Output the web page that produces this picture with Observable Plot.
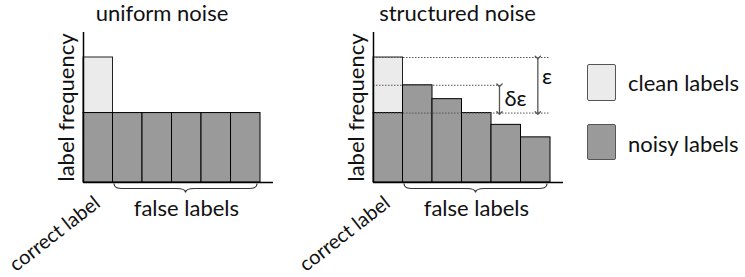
<!DOCTYPE html>
<html><head><meta charset="utf-8">
<script src="https://cdn.jsdelivr.net/npm/d3@7"></script>
<script src="https://cdn.jsdelivr.net/npm/@observablehq/plot@0.6"></script>
<style>
html,body{margin:0;padding:0;background:#fff;}
#root{position:relative;width:745px;height:277px;overflow:hidden;font-family:Lato,sans-serif;}
#root svg{position:absolute;top:0;overflow:visible;}
.sw{position:absolute;box-sizing:border-box;border:1px solid #555;border-radius:2px;}
.lt{position:absolute;font-size:22px;line-height:22px;white-space:nowrap;color:#111;}
</style></head><body><div id="root"></div>
<script>
// ---- data ----
const categories = ["correct label", "false 1", "false 2", "false 3", "false 4", "false 5"];
const uniformNoisy = [5, 5, 5, 5, 5, 5];
const uniformTotal = [9, 5, 5, 5, 5, 5];
const structuredNoisy = [5, 7, 6, 5, 4.15, 3.25];
const structuredTotal = [9, 7, 6, 5, 4.15, 3.25];
const panelTitles = ["uniform noise", "structured noise"];
const yLabel = "label frequency";
const correctLabelText = "correct label";
const falseLabelText = "false labels";
const legendLabels = ["clean labels", "noisy labels"];
const epsilonLabels = ["ε", "δε"];
// annotation levels (in data units) for the structured panel
const guideLevels = [9, 7, 5];
const guideEnds = [6, 4.28, 6];
const arrowX = [5.57, 4.27];
const arrowFrom = [9, 7];
const arrowTo = [5, 5];

const colors = {clean: "#ebebeb", noisy: "#9a9a9a"};

function panel(title, noisy, total, annotate) {
  const rows = categories.map((c, i) => ({cat: c, i, noisy: noisy[i], total: total[i]}));
  const falseIdx = rows.filter(d => d.i > 0).map(d => d.i);
  const bx1 = d3.min(falseIdx) + 0.05, bx2 = d3.max(falseIdx) + 1 - 0.1;
  const brace = (index, scales) => {
    const x1 = scales.x(bx1), x2 = scales.x(bx2), xm = (x1 + x2) / 2, y0 = scales.y(0) + 1.5;
    const d = `M${x1},${y0} C${x1},${y0+4} ${x1+3},${y0+5} ${x1+10},${y0+5} L${xm-9},${y0+5} C${xm-4},${y0+5} ${xm},${y0+6} ${xm},${y0+9} C${xm},${y0+6} ${xm+4},${y0+5} ${xm+9},${y0+5} L${x2-10},${y0+5} C${x2-3},${y0+5} ${x2},${y0+4} ${x2},${y0}`;
    return d3.create("svg:path").attr("d", d).attr("fill", "none").attr("stroke", "#333").attr("stroke-width", 1.2).node();
  };
  const marks = [
    Plot.rect(rows.filter(d => d.total > d.noisy), {x1: "i", x2: d => d.i + 1, y1: "noisy", y2: "total", fill: colors.clean, stroke: "#222", strokeWidth: 1}),
    Plot.rect(rows, {x1: "i", x2: d => d.i + 1, y1: 0, y2: "noisy", fill: colors.noisy, stroke: "#000", strokeWidth: 1}),
  ];
  if (annotate) {
    const guides = guideLevels.map((y, k) => ({y, x2: guideEnds[k]}));
    const arrows = arrowX.map((x, k) => ({x, from: arrowFrom[k], to: arrowTo[k]}));
    marks.push(
      Plot.ruleY(guides, {y: "y", x1: 0, x2: "x2", stroke: "#555", strokeWidth: 1, strokeDasharray: "1.5,1.5"}),
      Plot.link(arrows, {x1: "x", x2: "x", y1: "from", y2: "to", stroke: "#555", strokeWidth: 1.3, markerStart: "arrow", markerEnd: "arrow"}),
      Plot.text([epsilonLabels[0]], {frameAnchor: "top-left", dx: 168.5, dy: 51, textAnchor: "start", lineAnchor: "bottom", fontSize: 22}),
      Plot.text([epsilonLabels[1]], {frameAnchor: "top-left", dx: 131, dy: 73, textAnchor: "start", lineAnchor: "bottom", fontSize: 22})
    );
  }
  marks.push(
    Plot.ruleY([0], {stroke: "#000", strokeWidth: 1.5}),
    Plot.ruleX([0], {stroke: "#000", strokeWidth: 1.5}),
    brace,
    Plot.text([title], {frameAnchor: "top-left", dx: annotate ? 84 : 78.5, dy: -11.3, textAnchor: "middle", lineAnchor: "bottom", fontSize: 22}),
    Plot.text([yLabel], {frameAnchor: "top-left", dx: -10, dy: 75, rotate: -90, textAnchor: "middle", lineAnchor: "bottom", fontSize: 22}),
    Plot.text([correctLabelText], {frameAnchor: "top-left", dx: 18, dy: 173, rotate: -38, textAnchor: "end", lineAnchor: "bottom", fontSize: 20}),
    Plot.text([falseLabelText], {frameAnchor: "top-left", dx: 102.9, dy: 183, textAnchor: "middle", lineAnchor: "bottom", fontSize: 22})
  );
  return Plot.plot({
    width: 290, height: 277,
    marginLeft: 83, marginRight: 17, marginTop: 32, marginBottom: 95,
    x: {type: "linear", domain: [0, 6.44], axis: null},
    y: {type: "linear", domain: [0, 10.8], axis: null},
    style: {fontFamily: "Lato, sans-serif", fontSize: "22px", color: "#111", background: "transparent", overflow: "visible"},
    marks
  });
}

const root = document.getElementById("root");
const p1 = panel(panelTitles[0], uniformNoisy, uniformTotal, false);
p1.style.left = "0px";
root.appendChild(p1);
const p2 = panel(panelTitles[1], structuredNoisy, structuredTotal, true);
p2.style.left = "290px";
root.appendChild(p2);

// legend
const legendItems = [
  {label: legendLabels[0], fill: colors.clean, top: 64, h: 37, textTop: 72.2},
  {label: legendLabels[1], fill: colors.noisy, top: 124, h: 36, textTop: 132.5}
];
for (const it of legendItems) {
  const sw = document.createElement("div");
  sw.className = "sw";
  Object.assign(sw.style, {left: "587px", top: it.top + "px", width: "29px", height: it.h + "px", background: it.fill});
  root.appendChild(sw);
  const t = document.createElement("div");
  t.className = "lt";
  t.textContent = it.label;
  Object.assign(t.style, {left: "628px", top: it.textTop + "px"});
  root.appendChild(t);
}
</script></body></html>
